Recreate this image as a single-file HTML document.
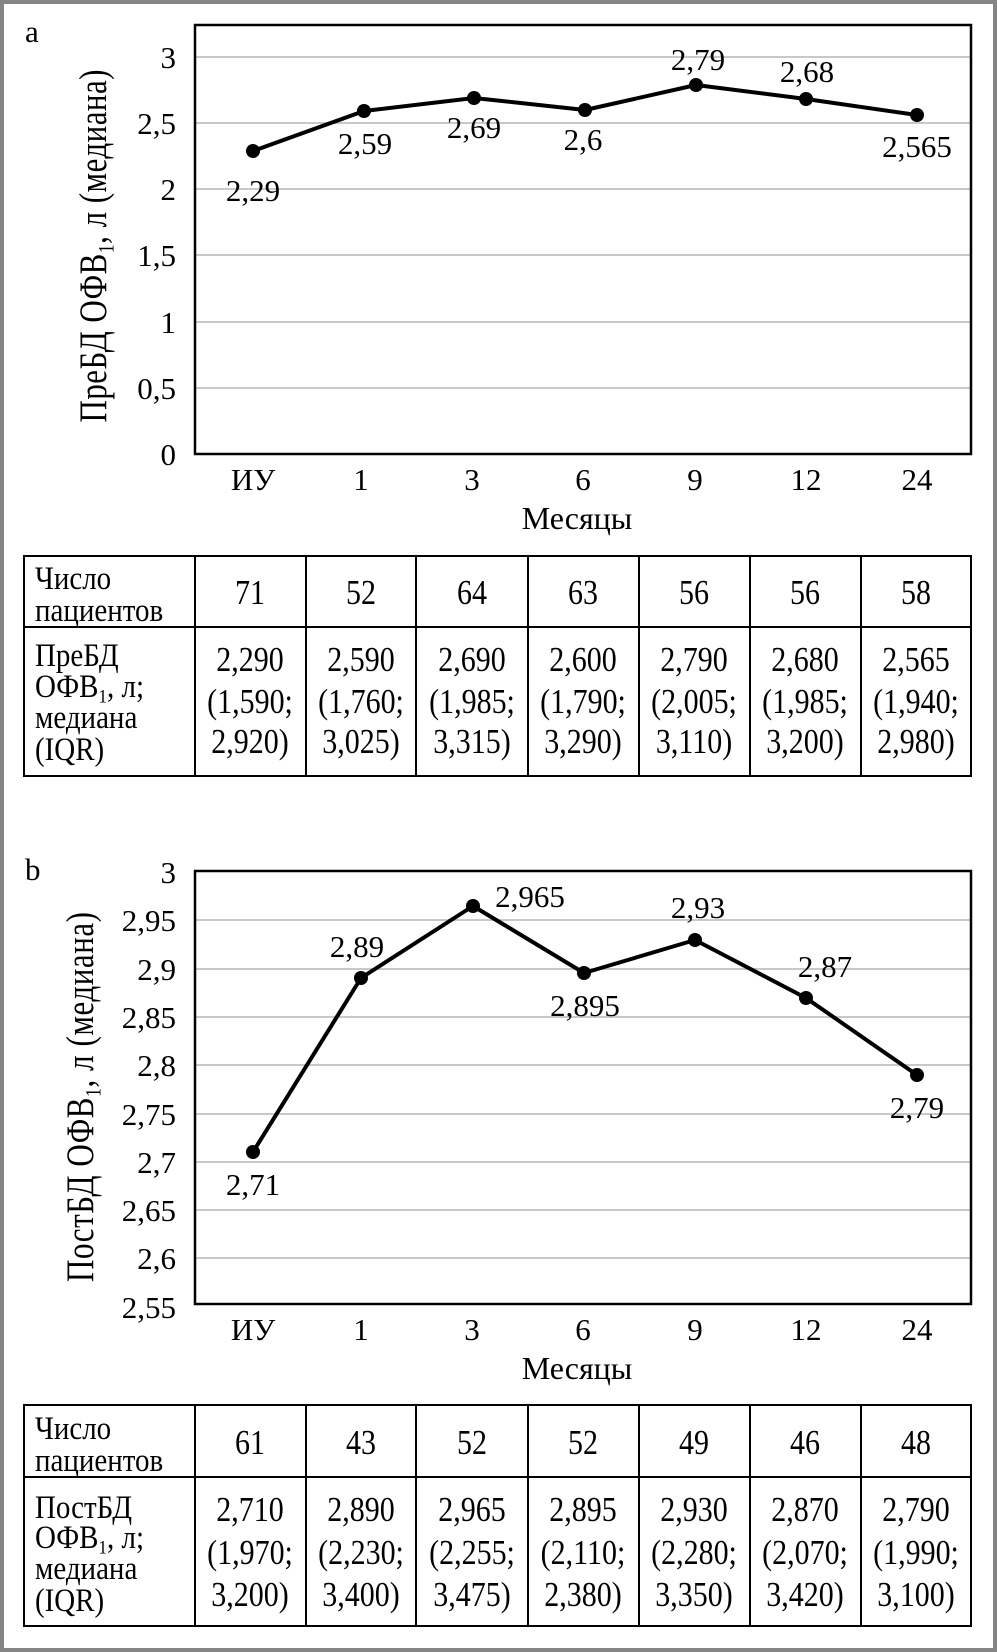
<!DOCTYPE html>
<html><head><meta charset="utf-8"><style>
html,body{margin:0;padding:0;background:#fff}
svg{display:block}
text{font-family:"Liberation Serif","DejaVu Serif",serif;fill:#000}
</style></head><body>
<svg width="997" height="1652" viewBox="0 0 997 1652" xmlns="http://www.w3.org/2000/svg">
<rect x="2" y="2" width="993" height="1648" fill="#fff" stroke="#858585" stroke-width="4"/>

<!-- ===== Chart a ===== -->
<text x="25" y="42" font-size="31">a</text>
<g stroke="#c8c8c8" stroke-width="2">
<line x1="195" x2="971" y1="57" y2="57"/><line x1="195" x2="971" y1="123" y2="123"/>
<line x1="195" x2="971" y1="189" y2="189"/><line x1="195" x2="971" y1="255" y2="255"/>
<line x1="195" x2="971" y1="322" y2="322"/><line x1="195" x2="971" y1="388" y2="388"/>
</g>
<rect x="195" y="25" width="776" height="429" fill="none" stroke="#000" stroke-width="2.5"/>
<g font-size="31" text-anchor="end">
<text x="176" y="68">3</text><text x="176" y="134">2,5</text><text x="176" y="200">2</text>
<text x="176" y="266">1,5</text><text x="176" y="333">1</text><text x="176" y="399">0,5</text>
<text x="176" y="465">0</text>
</g>
<text transform="translate(106,246) rotate(-90) scale(1,1.25)" font-size="31" text-anchor="middle" textLength="353">ПреБД ОФВ<tspan font-size="18" dy="6">1</tspan><tspan dy="-6">, л (медиана)</tspan></text>
<polyline points="253,151 364,111 474,98 585,110 696,85 806,99 917,115" fill="none" stroke="#000" stroke-width="4" stroke-linejoin="round"/>
<g fill="#000">
<circle cx="253" cy="151" r="7"/><circle cx="364" cy="111" r="7"/><circle cx="474" cy="98" r="7"/>
<circle cx="585" cy="110" r="7"/><circle cx="696" cy="85" r="7"/><circle cx="806" cy="99" r="7"/>
<circle cx="917" cy="115" r="7"/>
</g>
<g font-size="31" text-anchor="middle">
<text x="253" y="201">2,29</text><text x="365" y="154">2,59</text><text x="474" y="138">2,69</text>
<text x="583" y="150">2,6</text><text x="698" y="70">2,79</text><text x="807" y="82">2,68</text>
<text x="917" y="157">2,565</text>
<text x="253" y="490">ИУ</text><text x="361" y="490">1</text><text x="472" y="490">3</text>
<text x="583" y="490">6</text><text x="695" y="490">9</text><text x="806" y="490">12</text>
<text x="917" y="490">24</text>
<text x="577" y="529" font-size="32">Месяцы</text>
</g>

<!-- ===== Table a ===== -->
<g stroke="#000" stroke-width="2" fill="none">
<rect x="24" y="556" width="947" height="220"/>
<line x1="24" x2="971" y1="627" y2="627"/>
<line x1="195" x2="195" y1="556" y2="776"/><line x1="306" x2="306" y1="556" y2="776"/>
<line x1="416" x2="416" y1="556" y2="776"/><line x1="528" x2="528" y1="556" y2="776"/>
<line x1="639" x2="639" y1="556" y2="776"/><line x1="750" x2="750" y1="556" y2="776"/>
<line x1="861" x2="861" y1="556" y2="776"/>
</g>
<g font-size="29">
<text transform="translate(35,589) scale(1,1.12)">Число</text>
<text transform="translate(35,621) scale(1,1.12)">пациентов</text>
<text transform="translate(35,666) scale(1,1.12)">ПреБД</text>
<text transform="translate(35,697) scale(1,1.12)">ОФВ<tspan font-size="17" dy="5">1</tspan><tspan dy="-5">, л;</tspan></text>
<text transform="translate(35,728) scale(1,1.12)">медиана</text>
<text transform="translate(35,760) scale(1,1.12)">(IQR)</text>
</g>
<g font-size="30" text-anchor="middle">
<text transform="translate(250,604) scale(1,1.15)">71</text>
<text transform="translate(361,604) scale(1,1.15)">52</text>
<text transform="translate(472,604) scale(1,1.15)">64</text>
<text transform="translate(583,604) scale(1,1.15)">63</text>
<text transform="translate(694,604) scale(1,1.15)">56</text>
<text transform="translate(805,604) scale(1,1.15)">56</text>
<text transform="translate(916,604) scale(1,1.15)">58</text>
<text transform="translate(250,671) scale(1,1.15)">2,290</text><text transform="translate(250,713) scale(1,1.15)">(1,590;</text><text transform="translate(250,753) scale(1,1.15)">2,920)</text>
<text transform="translate(361,671) scale(1,1.15)">2,590</text><text transform="translate(361,713) scale(1,1.15)">(1,760;</text><text transform="translate(361,753) scale(1,1.15)">3,025)</text>
<text transform="translate(472,671) scale(1,1.15)">2,690</text><text transform="translate(472,713) scale(1,1.15)">(1,985;</text><text transform="translate(472,753) scale(1,1.15)">3,315)</text>
<text transform="translate(583,671) scale(1,1.15)">2,600</text><text transform="translate(583,713) scale(1,1.15)">(1,790;</text><text transform="translate(583,753) scale(1,1.15)">3,290)</text>
<text transform="translate(694,671) scale(1,1.15)">2,790</text><text transform="translate(694,713) scale(1,1.15)">(2,005;</text><text transform="translate(694,753) scale(1,1.15)">3,110)</text>
<text transform="translate(805,671) scale(1,1.15)">2,680</text><text transform="translate(805,713) scale(1,1.15)">(1,985;</text><text transform="translate(805,753) scale(1,1.15)">3,200)</text>
<text transform="translate(916,671) scale(1,1.15)">2,565</text><text transform="translate(916,713) scale(1,1.15)">(1,940;</text><text transform="translate(916,753) scale(1,1.15)">2,980)</text>
</g>

<!-- ===== Chart b ===== -->
<text x="25" y="880" font-size="31">b</text>
<g stroke="#c8c8c8" stroke-width="2">
<line x1="195" x2="971" y1="920" y2="920"/><line x1="195" x2="971" y1="969" y2="969"/>
<line x1="195" x2="971" y1="1017" y2="1017"/><line x1="195" x2="971" y1="1065" y2="1065"/>
<line x1="195" x2="971" y1="1114" y2="1114"/><line x1="195" x2="971" y1="1162" y2="1162"/>
<line x1="195" x2="971" y1="1210" y2="1210"/><line x1="195" x2="971" y1="1258" y2="1258"/>
</g>
<rect x="195" y="871" width="776" height="433" fill="none" stroke="#000" stroke-width="2.5"/>
<g font-size="31" text-anchor="end">
<text x="176" y="883">3</text><text x="176" y="931">2,95</text><text x="176" y="980">2,9</text>
<text x="176" y="1028">2,85</text><text x="176" y="1076">2,8</text><text x="176" y="1125">2,75</text>
<text x="176" y="1173">2,7</text><text x="176" y="1221">2,65</text><text x="176" y="1269">2,6</text>
<text x="176" y="1318">2,55</text>
</g>
<text transform="translate(93,1097) rotate(-90) scale(1,1.25)" font-size="31" text-anchor="middle" textLength="370">ПостБД ОФВ<tspan font-size="18" dy="6">1</tspan><tspan dy="-6">, л (медиана)</tspan></text>
<polyline points="253,1152 361,978 473,906 584,973 695,940 806,998 917,1075" fill="none" stroke="#000" stroke-width="4" stroke-linejoin="round"/>
<g fill="#000">
<circle cx="253" cy="1152" r="7"/><circle cx="361" cy="978" r="7"/><circle cx="473" cy="906" r="7"/>
<circle cx="584" cy="973" r="7"/><circle cx="695" cy="940" r="7"/><circle cx="806" cy="998" r="7"/>
<circle cx="917" cy="1075" r="7"/>
</g>
<g font-size="31" text-anchor="middle">
<text x="253" y="1195">2,71</text><text x="357" y="957">2,89</text><text x="530" y="907">2,965</text>
<text x="585" y="1016">2,895</text><text x="698" y="918">2,93</text><text x="825" y="977">2,87</text>
<text x="917" y="1118">2,79</text>
<text x="253" y="1340">ИУ</text><text x="361" y="1340">1</text><text x="472" y="1340">3</text>
<text x="583" y="1340">6</text><text x="695" y="1340">9</text><text x="806" y="1340">12</text>
<text x="917" y="1340">24</text>
<text x="577" y="1379" font-size="32">Месяцы</text>
</g>

<!-- ===== Table b ===== -->
<g stroke="#000" stroke-width="2" fill="none">
<rect x="24" y="1405" width="947" height="221"/>
<line x1="24" x2="971" y1="1477" y2="1477"/>
<line x1="195" x2="195" y1="1405" y2="1626"/><line x1="306" x2="306" y1="1405" y2="1626"/>
<line x1="416" x2="416" y1="1405" y2="1626"/><line x1="528" x2="528" y1="1405" y2="1626"/>
<line x1="639" x2="639" y1="1405" y2="1626"/><line x1="750" x2="750" y1="1405" y2="1626"/>
<line x1="861" x2="861" y1="1405" y2="1626"/>
</g>
<g font-size="29">
<text transform="translate(35,1439) scale(1,1.12)">Число</text>
<text transform="translate(35,1471) scale(1,1.12)">пациентов</text>
<text transform="translate(35,1518) scale(1,1.12)">ПостБД</text>
<text transform="translate(35,1548) scale(1,1.12)">ОФВ<tspan font-size="17" dy="5">1</tspan><tspan dy="-5">, л;</tspan></text>
<text transform="translate(35,1579) scale(1,1.12)">медиана</text>
<text transform="translate(35,1611) scale(1,1.12)">(IQR)</text>
</g>
<g font-size="30" text-anchor="middle">
<text transform="translate(250,1454) scale(1,1.15)">61</text>
<text transform="translate(361,1454) scale(1,1.15)">43</text>
<text transform="translate(472,1454) scale(1,1.15)">52</text>
<text transform="translate(583,1454) scale(1,1.15)">52</text>
<text transform="translate(694,1454) scale(1,1.15)">49</text>
<text transform="translate(805,1454) scale(1,1.15)">46</text>
<text transform="translate(916,1454) scale(1,1.15)">48</text>
<text transform="translate(250,1521) scale(1,1.15)">2,710</text><text transform="translate(250,1564) scale(1,1.15)">(1,970;</text><text transform="translate(250,1606) scale(1,1.15)">3,200)</text>
<text transform="translate(361,1521) scale(1,1.15)">2,890</text><text transform="translate(361,1564) scale(1,1.15)">(2,230;</text><text transform="translate(361,1606) scale(1,1.15)">3,400)</text>
<text transform="translate(472,1521) scale(1,1.15)">2,965</text><text transform="translate(472,1564) scale(1,1.15)">(2,255;</text><text transform="translate(472,1606) scale(1,1.15)">3,475)</text>
<text transform="translate(583,1521) scale(1,1.15)">2,895</text><text transform="translate(583,1564) scale(1,1.15)">(2,110;</text><text transform="translate(583,1606) scale(1,1.15)">2,380)</text>
<text transform="translate(694,1521) scale(1,1.15)">2,930</text><text transform="translate(694,1564) scale(1,1.15)">(2,280;</text><text transform="translate(694,1606) scale(1,1.15)">3,350)</text>
<text transform="translate(805,1521) scale(1,1.15)">2,870</text><text transform="translate(805,1564) scale(1,1.15)">(2,070;</text><text transform="translate(805,1606) scale(1,1.15)">3,420)</text>
<text transform="translate(916,1521) scale(1,1.15)">2,790</text><text transform="translate(916,1564) scale(1,1.15)">(1,990;</text><text transform="translate(916,1606) scale(1,1.15)">3,100)</text>
</g>
</svg>
</body></html>
